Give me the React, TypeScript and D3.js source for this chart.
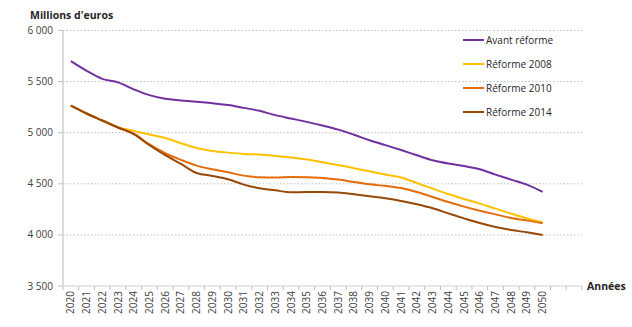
import React from "react";
import * as d3 from "d3";

const years = d3.range(2020, 2053).map(String); // 2051, 2052 empty bands
const labelYears = d3.range(2020, 2051).map(String);

const avantReforme = [5700, 5606, 5527, 5492, 5424, 5368, 5332, 5316, 5302, 5289, 5270, 5243, 5214, 5172, 5139, 5106, 5070, 5030, 4980, 4926, 4878, 4830, 4779, 4730, 4698, 4675, 4642, 4590, 4541, 4492, 4420];
const reforme2008 = [5265, 5188, 5119, 5051, 5018, 4982, 4949, 4897, 4851, 4822, 4805, 4792, 4786, 4773, 4757, 4737, 4711, 4684, 4652, 4622, 4591, 4561, 4508, 4453, 4400, 4351, 4306, 4257, 4208, 4162, 4123];
const reforme2010 = [5265, 5188, 5119, 5051, 4990, 4885, 4799, 4734, 4678, 4642, 4612, 4580, 4564, 4561, 4567, 4564, 4557, 4541, 4518, 4495, 4480, 4459, 4420, 4371, 4322, 4277, 4237, 4201, 4165, 4142, 4113];
const reforme2014 = [5265, 5188, 5119, 5051, 4985, 4877, 4780, 4694, 4606, 4577, 4545, 4492, 4456, 4436, 4417, 4420, 4420, 4414, 4397, 4378, 4358, 4332, 4299, 4260, 4211, 4162, 4116, 4077, 4048, 4025, 4000];

const seriesNames = ["Avant réforme", "Réforme 2008", "Réforme 2010", "Réforme 2014"];
const seriesColors = ["#7030A0", "#FFC000", "#E46C0A", "#984807"];
const seriesData = [avantReforme, reforme2008, reforme2010, reforme2014];
const yTicks = [3500, 4000, 4500, 5000, 5500, 6000];

export default function App() {
  const W = 632, H = 327;
  const left = 63, right = 582, top = 30.5, bottom = 286;
  const x = d3.scaleBand<string>().domain(years).range([left, right]).padding(0);
  const y = d3.scaleLinear().domain([3500, 6000]).range([bottom, top]);
  const fmt = (v: number) => d3.format(",")(v).replace(/,/g, " ");
  const line = d3
    .line<number>()
    .x((_, i) => (x(years[i]) as number) + x.bandwidth() / 2)
    .y((d) => y(d))
    .curve(d3.curveMonotoneX);
  const font = "'Open Sans', 'Noto Sans', sans-serif";
  const boundaries = d3.range(years.length + 1).map((i) => left + i * x.bandwidth());

  return (
    <svg width={W} height={H} style={{ position: "absolute", left: 0, top: 0, background: "#fff" }} fontFamily={font}>
      {yTicks.filter((t) => t !== 3500).map((t) => (
        <line key={"g" + t} x1={left} x2={right} y1={y(t)} y2={y(t)} stroke="#bfbfbf" strokeWidth={1} strokeDasharray="1.5,2" />
      ))}
      <line x1={left} x2={left} y1={top} y2={bottom} stroke="#d0d0d0" strokeWidth={1.5} />
      <line x1={left} x2={right} y1={bottom} y2={bottom} stroke="#d0d0d0" strokeWidth={1} />
      {yTicks.map((t) => (
        <g key={"t" + t}>
          <line x1={left - 5} x2={left} y1={y(t)} y2={y(t)} stroke="#bfbfbf" />
          <text x={53} y={y(t)} dy="0.35em" textAnchor="end" fontSize={10} fill="#404040">{fmt(t)}</text>
        </g>
      ))}
      {boundaries.map((b, i) => (
        <line key={"b" + i} x1={b} x2={b} y1={bottom} y2={bottom + 4} stroke="#bfbfbf" />
      ))}
      {labelYears.map((yr) => {
        const cx = (x(yr) as number) + x.bandwidth() / 2;
        return (
          <text key={yr} transform={`translate(${cx},${bottom + 5}) rotate(-90)`} textAnchor="end" dy="0.35em" fontSize={10} fill="#404040">
            {yr}
          </text>
        );
      })}
      {seriesData.map((s, i) => (
        <path key={seriesNames[i]} d={line(s) || ""} fill="none" stroke={seriesColors[i]} strokeWidth={2} />
      ))}
      {seriesNames.map((n, i) => (
        <g key={"l" + n}>
          <line x1={463} x2={484} y1={40 + i * 24} y2={40 + i * 24} stroke={seriesColors[i]} strokeWidth={2} />
          <text x={486} y={40 + i * 24} dy="0.35em" fontSize={10} fill="#262626">{n}</text>
        </g>
      ))}
      <text x={30} y={19} fontSize={10.5} fontWeight="bold" fill="#262626">Millions d'euros</text>
      <text x={587} y={290} fontSize={10.5} fontWeight="bold" fill="#262626">Années</text>
    </svg>
  );
}
